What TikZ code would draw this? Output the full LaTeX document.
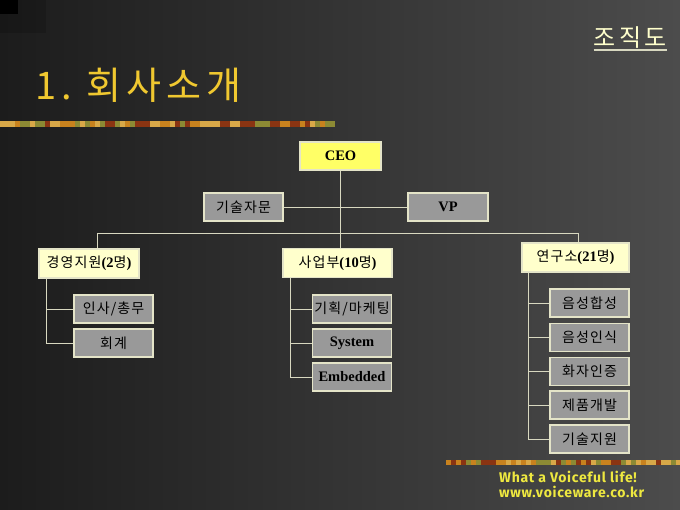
\documentclass[tikz,border=0pt]{standalone}
\usepackage{fontspec}
\setmainfont{Liberation Serif}
\newfontfamily\kr[LetterSpace=8]{Noto Sans CJK KR}
\newfontfamily\krtitle[LetterSpace=14]{Noto Sans CJK KR}
\newfontfamily\footfont[LetterSpace=5]{Fira Sans}
\usetikzlibrary{positioning}

\definecolor{bgdark}{HTML}{1C1C1C}
\definecolor{bglight}{HTML}{4C4C4C}
\definecolor{titlegold}{HTML}{F0C830}
\definecolor{ceoyellow}{HTML}{FFFF66}
\definecolor{deptcream}{HTML}{FFFFCC}
\definecolor{teamgray}{HTML}{999999}
\definecolor{edgecream}{HTML}{E4E4C8}
\definecolor{wirecream}{HTML}{D8D8C0}
\definecolor{footyellow}{HTML}{EEE840}
\definecolor{bar1}{HTML}{C8821E}
\definecolor{bar2}{HTML}{8A3412}
\definecolor{bar3}{HTML}{8C8A34}
\definecolor{bar4}{HTML}{D8A848}

\newcommand{\lat}[1]{{\rmfamily\bfseries\fontsize{14.5}{16}\selectfont #1}}

\tikzset{
  box/.style={draw=edgecream, line width=1.2pt, minimum height=28, inner sep=0pt,
    font=\kr\fontsize{14}{16}\selectfont, text=black},
  ceobox/.style={box, fill=ceoyellow, minimum width=81},
  deptbox/.style={box, fill=deptcream, minimum height=29},
  teambox/.style={box, fill=teamgray, minimum width=79},
  wire/.style={draw=wirecream, line width=0.8pt},
}

\begin{document}
\begin{tikzpicture}[x=1pt,y=-1pt]
  \useasboundingbox (0,0) rectangle (680,510);
  % background
  \shade[left color=bgdark, right color=bglight] (0,0) rectangle (680,510);
  \fill[black,opacity=0.15] (0,0) rectangle (46,33);
  \fill[black] (0,0) rectangle (18,14);

  % decorative bars
  \pgfmathsetseed{11}
  \foreach \i in {0,...,66}{
    \pgfmathrandominteger{\k}{1}{4}
    \fill[bar\k] (\i*5,121) rectangle +(5,6);
  }
  \foreach \i in {0,...,46}{
    \pgfmathrandominteger{\k}{1}{4}
    \fill[bar\k] (446+\i*5,460) rectangle +(5,5);
  }

  % titles
  \node[anchor=base west, inner sep=0pt, text=titlegold, font=\krtitle\fontsize{38}{40}\selectfont]
    (title) at (35,100) {1.\hspace{14pt}회사소개};
  \node[anchor=base east, inner sep=0pt, text=deptcream, font=\krtitle\fontsize{24}{26}\selectfont]
    (jojik) at (667,47) {조직도};
  \draw[wirecream, line width=1.2pt] ([yshift=-3pt]jojik.base west) -- ([yshift=-3pt]jojik.base east);

  % top level
  \node[ceobox] (ceo) at (340.5,156) {\lat{CEO}};
  \node[box, fill=teamgray, minimum width=79] (gisul) at (243.5,207) {기술자문};
  \node[box, fill=teamgray, minimum width=80] (vp) at (448,207) {\lat{VP}};

  % departments
  \node[deptbox, minimum width=100] (gyeong) at (89,263.5) {경영지원\lat{(2}명\lat{)}};
  \node[deptbox, minimum width=109] (saup) at (337.5,263) {사업부\lat{(10}명\lat{)}};
  \node[deptbox, minimum width=107] (yeon) at (575.5,257.5) {연구소\lat{(21}명\lat{)}};

  % teams
  \foreach \n/\y/\lab in {a1/309/{인사/총무}, a2/343/{회계}}
    \node[teambox] (\n) at (113.5,\y) {\lab};
  \foreach \n/\y/\lab in {b1/309/{기획/마케팅}, b2/343/{\lat{System}}, b3/377/{\lat{Embedded}}}
    \node[teambox] (\n) at (352,\y) {\lab};
  \foreach \n/\y/\lab in {c1/303/{음성합성}, c2/337.5/{음성인식}, c3/371.5/{화자인증},
                          c4/405/{제품개발}, c5/439/{기술지원}}
    \node[teambox] (\n) at (589.5,\y) {\lab};

  % connectors
  \coordinate (busL) at (97,233);
  \coordinate (busM) at (340.5,233);
  \coordinate (busR) at (578,233);
  \coordinate (trunkA) at (46,0);
  \coordinate (trunkB) at (290,0);
  \coordinate (trunkC) at (528,0);

  \draw[wire] (ceo) -- (busM);
  \draw[wire] (gisul) -- (vp);
  \draw[wire] (busL) -- (busR);
  \draw[wire] (busL) -- (busL |- gyeong.north);
  \draw[wire] (busM) -- (busM |- saup.north);
  \draw[wire] (busR) -- (busR |- yeon.north);
  \foreach \n in {a1,a2}
    \draw[wire] (gyeong.south -| trunkA) |- (\n.west);
  \foreach \n in {b1,b2,b3}
    \draw[wire] (saup.south -| trunkB) |- (\n.west);
  \foreach \n in {c1,c2,c3,c4,c5}
    \draw[wire] (yeon.south -| trunkC) |- (\n.west);

  % footer
  \node[anchor=west, inner sep=0pt, text=footyellow, font=\footfont\bfseries\fontsize{14}{16}\selectfont]
    (motto) at (499,477) {What a Voiceful life!};
  \node[anchor=west, inner sep=0pt, text=footyellow, font=\footfont\bfseries\fontsize{14}{16}\selectfont]
    (web) at (499,492) {www.voiceware.co.kr};
\end{tikzpicture}
\end{document}
